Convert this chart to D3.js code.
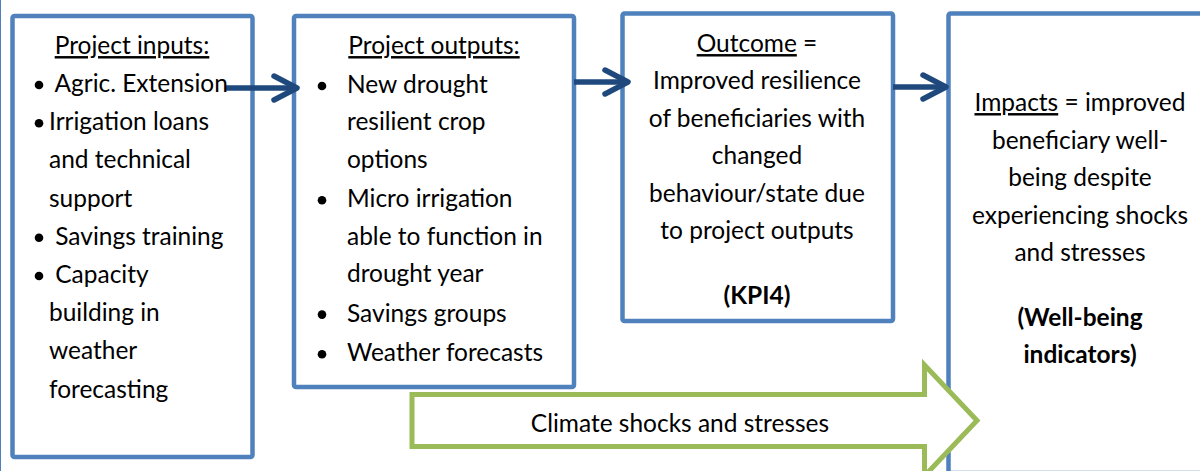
<!DOCTYPE html>
<html><head><meta charset="utf-8">
<script src="https://cdn.jsdelivr.net/npm/d3@7"></script>
<style>
html,body{margin:0;padding:0;background:#fff;}
svg{display:block;}
</style></head>
<body>
<svg id="c" width="1200" height="471"></svg>
<script>
// ---------- content ----------
const stageNames = ["inputs", "outputs", "outcome", "impacts"];
const inputsTitle = "Project inputs:";
const inputItems = [
  ["\u00a0Agric. Extension"],
  ["Irrigation loans", "and technical", "support"],
  ["\u00a0Savings training"],
  ["\u00a0Capacity", "building in", "weather", "forecasting"]
];
const outputsTitle = "Project outputs:";
const outputItems = [
  ["New drought", "resilient crop", "options"],
  ["Micro irrigation", "able to function in", "drought year"],
  ["Savings groups"],
  ["Weather forecasts"]
];
const outcomeHead = ["Outcome", " ="];
const outcomeLines = ["Improved resilience", "of beneficiaries with", "changed", "behaviour/state due", "to project outputs"];
const outcomeIndicator = ["(KPI4)"];
const impactHead = ["Impacts", " = improved"];
const impactLines = ["beneficiary well-", "being despite", "experiencing shocks", "and stresses"];
const impactIndicator = ["(Well-being", "indicators)"];
const shockLabel = "Climate shocks and stresses";

// ---------- layout / style ----------
const FONT = "Lato, 'Open Sans', sans-serif";
const BOX_COLOR = "#4F81BD", ARROW_COLOR = "#1F497D", GREEN = "#9BBB59";
const boxes = [
  {x0: 12.5, x1: 252.5, y0: 16, y1: 457},
  {x0: 294, x1: 574, y0: 16, y1: 387},
  {x0: 622.5, x1: 893, y0: 13.5, y1: 321},
  {x0: 948.5, x1: 1260, y0: 13.5, y1: 473}
];
const svg = d3.select("#c");

// fit font size so that a reference line has the reference width
const probe = svg.append("text").attr("font-family", FONT).attr("font-size", 100).text("experiencing shocks");
const fs = 100 * 216 / probe.node().getComputedTextLength();
probe.remove();

svg.append("rect").attr("width", 1200).attr("height", 471).attr("fill", "#fff");
svg.append("line").attr("x1", 0.5).attr("x2", 0.5).attr("y1", 0).attr("y2", 471)
  .attr("stroke", BOX_COLOR).attr("stroke-width", 1);

const line = d3.line();

// boxes
svg.append("g").selectAll("rect").data(boxes).join("rect")
  .attr("x", d => d.x0).attr("y", d => d.y0)
  .attr("width", d => d.x1 - d.x0).attr("height", d => d.y1 - d.y0)
  .attr("rx", 2).attr("fill", "none")
  .attr("stroke", BOX_COLOR).attr("stroke-width", 4.5);

// connectors
const connectors = [
  {x0: 226, x1: 297, y: 88},
  {x0: 574, x1: 628, y: 82},
  {x0: 893, x1: 946, y: 87}
];
const cg = svg.append("g").attr("stroke", ARROW_COLOR).attr("fill", "none");
connectors.forEach(c => {
  cg.append("path").attr("d", line([[c.x0, c.y], [c.x1 - 3, c.y]]))
    .attr("stroke-width", 5.5).attr("stroke-linecap", "butt");
  cg.append("path").attr("d", line([[c.x1 - 23, c.y - 12], [c.x1, c.y], [c.x1 - 23, c.y + 12]]))
    .attr("stroke-width", 5.5).attr("stroke-linecap", "round").attr("stroke-linejoin", "round");
});

// green arrow
const arrowPts = [[412, 394.5], [924.5, 394.5], [924.5, 365], [977, 420.5], [924.5, 476], [924.5, 446.5], [412, 446.5]];
svg.append("path").attr("d", line(arrowPts) + "Z")
  .attr("fill", "#fff").attr("stroke", GREEN).attr("stroke-width", 5).attr("stroke-linejoin", "miter");
svg.append("text").attr("x", 680).attr("y", 424 + fs * 0.33)
  .attr("text-anchor", "middle").attr("font-family", FONT).attr("font-size", fs).attr("fill", "#000")
  .text(shockLabel);

const base = fs * 0.33;
function txt(x, yc, anchor) {
  return svg.append("text").attr("x", x).attr("y", yc + base).attr("text-anchor", anchor)
    .attr("font-family", FONT).attr("font-size", fs).attr("fill", "#000");
}

// box 1: inputs
txt(132, 46, "middle").append("tspan").style("text-decoration", "underline").text(inputsTitle);
{
  const yS = d3.scaleLinear().domain([0, 1]).range([84, 122.2]);
  let i = 0;
  inputItems.forEach(item => {
    svg.append("circle").attr("cx", 39).attr("cy", yS(i) + 1).attr("r", 4.3).attr("fill", "#000");
    item.forEach(l => { txt(49, yS(i), "start").text(l); i++; });
  });
}
// box 2: outputs
txt(434, 46, "middle").append("tspan").style("text-decoration", "underline").text(outputsTitle);
{
  const lineGap = 37.3, itemGap = 2.4;
  let y = 85;
  outputItems.forEach(item => {
    svg.append("circle").attr("cx", 322).attr("cy", y + 1).attr("r", 4.3).attr("fill", "#000");
    item.forEach(l => { txt(347, y, "start").text(l); y += lineGap; });
    y += itemGap;
  });
}
// box 3: outcome
{
  const cx = 757;
  const yS = d3.scaleLinear().domain([0, 1]).range([44, 81.4]);
  const t = txt(cx, yS(0), "middle");
  t.append("tspan").style("text-decoration", "underline").text(outcomeHead[0]);
  t.append("tspan").text(outcomeHead[1]);
  outcomeLines.forEach((l, i) => txt(cx, yS(i + 1), "middle").text(l));
  outcomeIndicator.forEach((l, i) => txt(cx, 296 + i * 37.4, "middle").attr("font-weight", "bold").text(l));
}
// box 4: impacts
{
  const cx = 1080;
  const yS = d3.scaleLinear().domain([0, 1]).range([103, 140.5]);
  const t = txt(cx, yS(0), "middle");
  t.append("tspan").style("text-decoration", "underline").text(impactHead[0]);
  t.append("tspan").text(impactHead[1]);
  impactLines.forEach((l, i) => txt(cx, yS(i + 1), "middle").text(l));
  impactIndicator.forEach((l, i) => txt(cx, 318 + i * 37.4, "middle").attr("font-weight", "bold").text(l));
}
</script>
</body></html>
